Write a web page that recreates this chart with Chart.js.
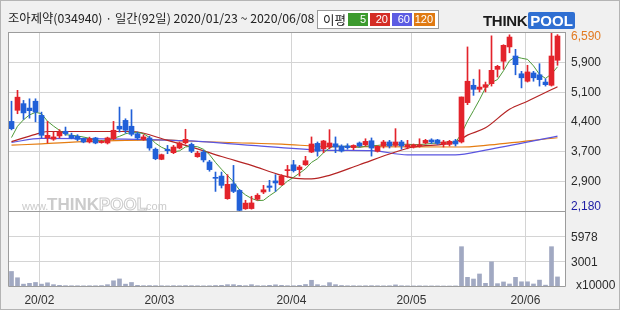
<!DOCTYPE html>
<html>
<head>
<meta charset="utf-8">
<script src="https://cdn.jsdelivr.net/npm/chart.js@4.4.1/dist/chart.umd.min.js"></script>
<style>
  html, body { margin: 0; padding: 0; background: #fff; }
  #wrap { position: relative; width: 620px; height: 310px; background: #f0f0f0; overflow: hidden;
          font-family: "Noto Sans CJK KR", "Noto Sans", sans-serif; }
  #frame { position: absolute; left: 0; top: 0; width: 620px; height: 310px; box-sizing: border-box;
           border: 1px solid #b4b4b4; pointer-events: none; }
  canvas { position: absolute; left: 0; }
  #priceCanvas { top: 0; }
  #volCanvas { top: 212px; }
  #title { position: absolute; left: 8px; top: 9px; font-size: 12.3px; color: #222; white-space: nowrap; }
  #legend { position: absolute; left: 317px; top: 10px; width: 122px; height: 19px; box-sizing: border-box;
            background: #fff; border: 1px solid #9a9a9a; font-size: 12.5px; }
  #legend .lbl { position: absolute; left: 5px; top: -1px; color: #222; }
  #legend .box { position: absolute; top: 2px; height: 13px; width: 20px; color: #fff; font-size: 11px;
                 line-height: 13px; text-align: right; box-sizing: border-box; padding-right: 2px;
                 font-family: "Liberation Sans", Arial, sans-serif; }
  #logo { position: absolute; left: 483px; top: 12px; height: 17px; font-family: "Liberation Sans", Arial, sans-serif;
          font-weight: bold; font-size: 15px; white-space: nowrap; }
  #logo .think { color: #1a1a1a; letter-spacing: -0.3px; }
  #logo .pool { color: #fff; background: #2f6fd2; padding: 0 2px; border-radius: 2px; margin-left: 1px; }
</style>
</head>
<body>
<div id="wrap">
  <canvas id="priceCanvas" width="620" height="214"></canvas>
  <canvas id="volCanvas" width="620" height="98"></canvas>
  <div id="title">조아제약(034940) · 일간(92일) 2020/01/23 ~ 2020/06/08</div>
  <div id="legend">
    <span class="lbl">이평</span>
    <span class="box" style="left:30px;background:#3c9a2e">5</span>
    <span class="box" style="left:52px;background:#d42d25">20</span>
    <span class="box" style="left:74px;background:#5c5ce2">60</span>
    <span class="box" style="left:96px;width:21px;background:#e07a12">120</span>
  </div>
  <div id="logo"><span class="think">THINK</span><span class="pool">POOL</span></div>
  <div id="frame"></div>
</div>
<script>
// trading days 2020/01/23 ~ 2020/06/08
const dates = [
  '01/23','01/28','01/29','01/30','01/31',
  '02/03','02/04','02/05','02/06','02/07','02/10','02/11','02/12','02/13','02/14',
  '02/17','02/18','02/19','02/20','02/21','02/24','02/25','02/26','02/27','02/28',
  '03/02','03/03','03/04','03/05','03/06','03/09','03/10','03/11','03/12','03/13',
  '03/16','03/17','03/18','03/19','03/20','03/23','03/24','03/25','03/26','03/27','03/30','03/31',
  '04/01','04/02','04/03','04/06','04/07','04/08','04/09','04/10','04/13','04/14',
  '04/16','04/17','04/20','04/21','04/22','04/23','04/24','04/27','04/28','04/29',
  '05/04','05/06','05/07','05/08','05/11','05/12','05/13','05/14','05/15',
  '05/18','05/19','05/20','05/21','05/22','05/25','05/26','05/27','05/28','05/29',
  '06/01','06/02','06/03','06/04','06/05','06/08'
];
const monthStarts = ['02/03', '03/02', '04/01', '05/04', '06/01'];
const monthLabels = ['20/02', '20/03', '20/04', '20/05', '20/06'];

const opens = [
  4400,4675,4840,4730,4900,4550,3990,3960,4040,4155,4055,4030,3970,3890,3990,3875,3865,3970,4280,4425,
  4280,4095,3955,3990,3710,3460,3710,3625,3740,3870,3830,3525,3640,3395,3000,3045,2485,2850,2690,2235,
  2240,2470,2650,2800,2925,2830,3180,3325,3205,3325,3640,3855,3725,3765,3845,3790,3790,3750,3865,3820,
  3920,3660,3790,3890,3805,3890,3765,3765,3790,3865,3940,3940,3840,3830,3915,3890,4865,5295,5195,5245,
  5335,5690,5890,6245,6020,5580,5395,5600,5555,5375,5295,5915
];
const highs = [
  4900,5170,4920,4960,4960,4630,4400,4140,4195,4260,4110,4070,3990,4010,4005,3930,4010,4400,4755,4465,
  4690,4135,4070,4030,3740,3590,3805,3805,3890,4205,3865,3660,3685,3435,3145,3145,3080,3310,2715,2445,
  2545,2610,2815,2940,3080,3080,3310,3435,3310,3535,4015,3890,3930,4195,4015,3820,3845,3820,3890,3970,
  3990,3800,3930,3930,4220,3930,3930,3840,3970,3955,3970,3955,3930,3930,3955,5005,6245,5445,5680,5375,
  6520,5790,6300,6545,6185,5640,5790,5640,5830,5455,6590,6550
];
const lows = [
  4190,4590,4450,4480,4390,3990,3865,3930,3990,4055,3970,3920,3870,3865,3845,3860,3840,3945,4135,4110,
  4040,3945,3930,3685,3450,3450,3600,3600,3720,3840,3625,3510,3395,3165,2665,2750,2470,2635,2180,2220,
  2225,2445,2610,2665,2665,2815,3015,3145,3045,3310,3625,3540,3625,3720,3625,3640,3710,3700,3765,3790,
  3540,3640,3740,3740,3765,3710,3720,3740,3760,3840,3850,3830,3765,3790,3790,3865,4815,5045,5130,5130,
  5275,5500,5690,6100,5555,5230,5375,5395,5275,5275,5275,5790
];
const closes = [
  4220,5000,4610,4665,4630,4055,4055,4015,4137,4095,3990,3955,3890,3970,3865,3905,3990,4180,4210,4180,
  4080,3990,4015,3740,3475,3575,3675,3765,3865,3955,3660,3615,3445,3205,2990,2815,2840,2665,2195,2375,
  2380,2570,2705,2765,2875,3045,3205,3180,3270,3425,3840,3660,3915,3865,3765,3665,3750,3805,3790,3905,
  3740,3780,3890,3790,3890,3790,3820,3820,3820,3930,3890,3855,3890,3905,3840,5005,5395,5195,5250,5310,
  5665,5765,6285,6490,5805,5480,5625,5480,5435,5310,6020,6515
];
// volume, x10000 shares
const volumes = [
  1850,1100,340,440,540,340,500,280,200,160,150,150,140,150,150,170,280,740,960,340,
  540,200,160,170,160,150,140,160,150,170,160,150,140,150,180,200,280,280,200,160,
  280,160,150,200,260,200,160,150,200,300,800,280,160,520,280,180,150,150,140,150,
  160,150,140,150,250,150,140,130,140,130,130,130,120,120,130,4800,1150,950,1550,440,
  3000,400,600,360,1150,620,620,360,820,220,4800,1200
];

// moving averages
const ma5 = [
  4000,4280,4440,4560,4625,4592,4403,4284,4178,4071,4058,4038,4013,3980,3934,3917,3924,3982,4030,4093,
  4128,4128,4095,4001,3860,3759,3696,3646,3671,3767,3784,3772,3708,3576,3383,3214,3059,2903,2701,2578,
  2491,2437,2445,2559,2659,2792,2919,3014,3115,3225,3384,3475,3622,3741,3809,3774,3792,3770,3755,3783,
  3798,3804,3821,3821,3818,3828,3836,3822,3828,3836,3856,3863,3877,3894,3876,4099,4407,4668,4937,5231,
  5363,5437,5655,5903,6002,5965,5937,5776,5565,5466,5574,5752
];
const ma20 = [
  ['01/23',3900],['01/31',4080],['02/04',4150],['02/24',4150],['03/03',3931],['03/10',3720],
  ['03/16',3530],['03/23',3312],['03/30',3064],['04/02',2980],['04/06',2975],['04/09',3064],
  ['04/17',3326],['04/27',3641],['05/04',3765],['05/14',3890],['05/18',4060],['05/21',4240],
  ['05/27',4700],['06/01',4900],['06/08',5260]
];
const ma60 = [
  ['01/23',3880],['02/03',3980],['02/21',3960],['03/03',3935],['03/09',3915],['03/23',3807],
  ['04/09',3683],['04/21',3675],['04/29',3570],['05/14',3570],['05/21',3690],['06/08',4035]
];
const ma120 = [
  ['01/23',3810],['02/03',3845],['02/13',3905],['02/21',3930],['03/03',3940],['03/06',3914],
  ['03/23',3860],['03/30',3835],['04/09',3775],['05/15',3765],['05/21',3807],['06/08',3995]
];

const priceTicks = [6590, 5855, 5120, 4385, 3650, 2915, 2180];
const priceTickLabels = ['6,590', '5,900', '5,100', '4,400', '3,700', '2,900', '2,180'];
const volTicks = [5978, 3001];
const volTickLabels = ['5978', '3001'];
const volUnitLabel = 'x10000';

const RED = '#e3232b', BLUE = '#2160d8', GRID = '#d4d4d4', FRAME = '#9c9c9c';
const LABEL_FONT = '12px "Liberation Sans", Arial, sans-serif';

const monthIdx = monthStarts.map(d => dates.indexOf(d));
const xMin = -0.5 - 1 / 12, xMax = dates.length + 0.5 - 1 / 12;
const candleColors = opens.map((o, i) => closes[i] >= o ? RED : BLUE);
const sparse = pts => pts.map(([d, v]) => ({ x: dates.indexOf(d), y: v }));

function xScale(showLabels) {
    return {
        type: 'linear', min: xMin, max: xMax, offset: false,
        grid: { offset: false, color: GRID, drawTicks: false },
        border: { display: false },
        ticks: {
            display: showLabels, autoSkip: false, maxRotation: 0, padding: 6, color: '#333',
            font: { size: 12, family: '"Liberation Sans", Arial, sans-serif' },
            callback: (v, i) => monthLabels[i]
        },
        afterBuildTicks: s => { s.ticks = monthIdx.map(i => ({ value: i - 0.35 })); },
        afterFit: s => { s.height = showLabels ? 23 : 0; }
    };
}

const priceFrame = {
    id: 'priceFrame',
    beforeDraw(chart) {
        const a = chart.chartArea, ctx = chart.ctx;
        ctx.save();
        ctx.fillStyle = '#fff';
        ctx.fillRect(a.left, a.top, a.right - a.left, a.bottom - a.top);
        ctx.restore();
    },
    beforeDatasetsDraw(chart) {
        // www.THINKPOOL.com watermark
        const ctx = chart.ctx;
        ctx.save();
        ctx.textBaseline = 'alphabetic';
        ctx.fillStyle = '#cbcbcb';
        ctx.font = '11px "Liberation Sans", Arial, sans-serif';
        ctx.fillText('www.', 22, 210);
        ctx.font = 'bold 17px "Liberation Sans", Arial, sans-serif';
        ctx.fillText('THINK', 47, 210);
        ctx.fillStyle = '#fff';
        ctx.strokeStyle = '#cbcbcb';
        ctx.lineWidth = 1;
        ctx.fillText('POOL', 99, 210);
        ctx.strokeText('POOL', 99, 210);
        ctx.fillStyle = '#cbcbcb';
        ctx.font = '11px "Liberation Sans", Arial, sans-serif';
        ctx.fillText('.com', 143, 210);
        ctx.restore();
    },
    afterDraw(chart) {
        const a = chart.chartArea, ctx = chart.ctx, y = chart.scales.y;
        ctx.save();
        ctx.strokeStyle = FRAME;
        ctx.lineWidth = 1;
        ctx.strokeRect(a.left + 0.5, a.top + 0.5, a.right - a.left - 1, a.bottom - a.top - 1);
        ctx.font = LABEL_FONT;
        ctx.textBaseline = 'middle';
        priceTicks.forEach((v, i) => {
            let py = y.getPixelForValue(v);
            py = Math.min(Math.max(py, a.top + 5), a.bottom - 5);
            ctx.fillStyle = i === 0 ? '#e27a22' : (i === priceTicks.length - 1 ? '#1c1ca4' : '#2a2a2a');
            ctx.fillText(priceTickLabels[i], 571, py);
        });
        ctx.restore();
    }
};

const volFrame = {
    id: 'volFrame',
    beforeDraw(chart) {
        const a = chart.chartArea, ctx = chart.ctx;
        ctx.save();
        ctx.fillStyle = '#fff';
        ctx.fillRect(a.left, a.top, a.right - a.left, a.bottom - a.top);
        ctx.restore();
    },
    afterDraw(chart) {
        const a = chart.chartArea, ctx = chart.ctx, y = chart.scales.y;
        ctx.save();
        ctx.strokeStyle = FRAME;
        ctx.lineWidth = 1;
        ctx.beginPath();
        ctx.moveTo(a.left + 0.5, a.top);
        ctx.lineTo(a.left + 0.5, a.bottom - 0.5);
        ctx.lineTo(a.right - 0.5, a.bottom - 0.5);
        ctx.lineTo(a.right - 0.5, a.top);
        ctx.stroke();
        ctx.font = LABEL_FONT;
        ctx.textBaseline = 'middle';
        ctx.fillStyle = '#2a2a2a';
        volTicks.forEach((v, i) => ctx.fillText(volTickLabels[i], 571, y.getPixelForValue(v) + 1));
        ctx.fillText(volUnitLabel, 576, a.bottom - 1);
        ctx.restore();
    }
};

new Chart(document.getElementById('priceCanvas'), {
    type: 'bar',
    data: {
        datasets: [
            {
                type: 'bar', data: dates.map((d, i) => ({ x: i, y: [opens[i], closes[i]] })),
                backgroundColor: candleColors, barThickness: 5, minBarLength: 1, grouped: false, order: 1
            },
            {
                type: 'bar', data: dates.map((d, i) => ({ x: i, y: [lows[i], highs[i]] })),
                backgroundColor: candleColors, barThickness: 1, grouped: false, order: 2
            },
            {
                type: 'line', data: sparse(ma120), borderColor: '#e57d12', borderWidth: 1.2,
                pointRadius: 0, cubicInterpolationMode: 'monotone', order: 6
            },
            {
                type: 'line', data: sparse(ma60), borderColor: '#5a55e0', borderWidth: 1.2,
                pointRadius: 0, cubicInterpolationMode: 'monotone', order: 5
            },
            {
                type: 'line', data: sparse(ma20), borderColor: '#b52424', borderWidth: 1.2,
                pointRadius: 0, cubicInterpolationMode: 'monotone', order: 4
            },
            {
                type: 'line', data: dates.map((d, i) => ({ x: i, y: ma5[i] })), borderColor: '#4f9a3a',
                borderWidth: 1, pointRadius: 0, tension: 0, order: 3
            }
        ]
    },
    options: {
        responsive: false,
        animation: false,
        devicePixelRatio: 1,
        layout: { padding: { left: 8, right: 54, top: 32, bottom: 2 } },
        plugins: { legend: { display: false }, tooltip: { enabled: false } },
        scales: {
            x: xScale(false),
            y: {
                type: 'linear', position: 'right', min: 2155, max: 6615,
                grid: {
                    drawTicks: false,
                    color: c => (c.tick && (c.tick.value === 6590 || c.tick.value === 2180)) ? 'rgba(0,0,0,0)' : GRID
                },
                border: { display: false },
                ticks: { display: false },
                afterBuildTicks: s => { s.ticks = priceTicks.map(v => ({ value: v })); },
                afterFit: s => { s.width = 0; }
            }
        }
    },
    plugins: [priceFrame]
});

new Chart(document.getElementById('volCanvas'), {
    type: 'bar',
    data: {
        datasets: [{
            data: dates.map((d, i) => ({ x: i, y: volumes[i] })),
            backgroundColor: '#a1a9c2', barThickness: 4, grouped: false
        }]
    },
    options: {
        responsive: false,
        animation: false,
        devicePixelRatio: 1,
        layout: { padding: { left: 8, right: 54, top: 0, bottom: 0 } },
        plugins: { legend: { display: false }, tooltip: { enabled: false } },
        scales: {
            x: xScale(true),
            y: {
                type: 'linear', position: 'right', min: 0, max: 8930,
                grid: { drawTicks: false, color: GRID },
                border: { display: false },
                ticks: { display: false },
                afterBuildTicks: s => { s.ticks = volTicks.map(v => ({ value: v })); },
                afterFit: s => { s.width = 0; }
            }
        }
    },
    plugins: [volFrame]
});
</script>
</body>
</html>
